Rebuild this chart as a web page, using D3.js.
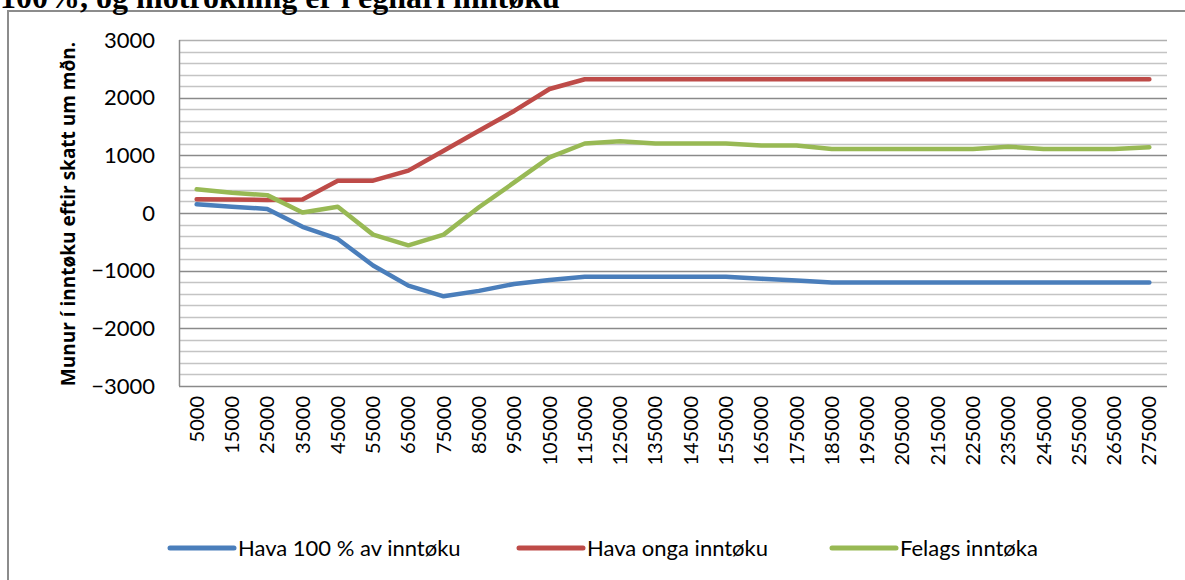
<!DOCTYPE html>
<html>
<head>
<meta charset="utf-8">
<script src="https://cdn.jsdelivr.net/npm/d3@7"></script>
<style>
  html, body { margin: 0; padding: 0; background: #fff; overflow: hidden; }
  svg { display: block; }
</style>
</head>
<body>
<div id="graph-container"></div>
<script>
const incomes = [5000, 15000, 25000, 35000, 45000, 55000, 65000, 75000, 85000, 95000,
    105000, 115000, 125000, 135000, 145000, 155000, 165000, 175000, 185000, 195000,
    205000, 215000, 225000, 235000, 245000, 255000, 265000, 275000];

const fullIncome = [150, 110, 70, -240, -450, -910, -1260, -1445, -1350, -1230,
    -1160, -1105, -1105, -1105, -1105, -1105, -1140, -1170, -1205, -1205,
    -1205, -1205, -1205, -1205, -1205, -1205, -1205, -1205];

const noIncome = [240, 235, 225, 235, 560, 560, 735, 1080, 1425, 1770,
    2150, 2320, 2320, 2320, 2320, 2320, 2320, 2320, 2320, 2320,
    2320, 2320, 2320, 2320, 2320, 2320, 2320, 2320];

const sharedIncome = [410, 350, 310, 10, 110, -375, -560, -375, 100, 530,
    965, 1205, 1245, 1205, 1205, 1205, 1170, 1170, 1110, 1110,
    1110, 1110, 1110, 1150, 1110, 1110, 1110, 1140];

const seriesNames = ['Hava 100 % av inntøku', 'Hava onga inntøku', 'Felags inntøka'];
const seriesColors = ['#4a7ebb', '#be4b48', '#98b954'];
const yTicks = [-3000, -2000, -1000, 0, 1000, 2000, 3000];

const series = [fullIncome, noIncome, sharedIncome].map((values, i) => ({
    name: seriesNames[i],
    color: seriesColors[i],
    values: values,
}));

const WIDTH = 1185, HEIGHT = 580;

const margin = { top: 40, left: 179, right: 18, bottom: 194 };
const width = WIDTH - margin.left - margin.right,
    height = HEIGHT - margin.top - margin.bottom;

const svg = d3.select('#graph-container').append('svg')
    .attr('width', WIDTH)
    .attr('height', HEIGHT);

// chart frame
svg.append('rect')
    .attr('x', 8)
    .attr('y', 11)
    .attr('width', WIDTH)
    .attr('height', HEIGHT)
    .attr('fill', '#fff')
    .attr('stroke', '#8c8c8c')
    .attr('stroke-width', 2);

// clipped document text above the chart
svg.append('text')
    .attr('x', 0)
    .attr('y', 8)
    .style('font-family', '"Liberation Serif", "DejaVu Serif", serif')
    .style('font-weight', 'bold')
    .style('font-size', '32px')
    .text('100%, og mótrokning er í egnari inntøku');

const xScale = d3.scaleBand()
    .domain(incomes)
    .range([0, width]);

const yScale = d3.scaleLinear()
    .domain([-3000, 3000])
    .range([height, 0]);

const container = svg.append('g')
    .attr('transform', `translate(${margin.left} ${margin.top})`);

// minor grid
const minor = d3.range(-3000, 3001, 200).filter((d) => d % 1000 !== 0);
container.append('g')
    .selectAll('line')
    .data(minor)
    .join('line')
    .attr('x1', 0)
    .attr('x2', width)
    .attr('y1', (d) => Math.round(yScale(d)) + 0.5)
    .attr('y2', (d) => Math.round(yScale(d)) + 0.5)
    .attr('stroke', '#c4c4c4')
    .attr('stroke-width', 1.5);

// major grid
container.append('g')
    .selectAll('line')
    .data(yTicks)
    .join('line')
    .attr('x1', 0)
    .attr('x2', width)
    .attr('y1', (d) => Math.round(yScale(d)) + 0.5)
    .attr('y2', (d) => Math.round(yScale(d)) + 0.5)
    .attr('stroke', (d) => d === 3000 ? '#b0b0b0' : '#8a8a8a')
    .attr('stroke-width', 1.5);

// left axis line
container.append('line')
    .attr('x1', 0.5).attr('x2', 0.5)
    .attr('y1', 0).attr('y2', height)
    .attr('stroke', '#8a8a8a')
    .attr('stroke-width', 1.5);

// y axis labels
const yAxis = d3.axisLeft(yScale)
    .tickValues(yTicks)
    .tickSize(0)
    .tickPadding(24)
    .tickFormat(d3.format('d'));

container.append('g')
    .call(yAxis)
    .call((g) => g.select('.domain').remove())
    .selectAll('text')
    .style('font-family', 'Lato, "Open Sans", sans-serif')
    .style('font-size', '22px')
    .attr('fill', '#000');

// x axis labels
const xAxis = d3.axisBottom(xScale)
    .tickSize(0)
    .tickFormat((d) => d);

container.append('g')
    .attr('transform', `translate(0, ${height})`)
    .call(xAxis)
    .call((g) => g.select('.domain').remove())
    .selectAll('text')
    .attr('transform', 'rotate(-90)')
    .attr('x', -10)
    .attr('y', 0)
    .attr('dy', '0.35em')
    .style('text-anchor', 'end')
    .style('font-family', 'Lato, "Open Sans", sans-serif')
    .style('font-size', '20px')
    .attr('fill', '#000');

// y axis title
svg.append('text')
    .attr('transform', `translate(75, 214) rotate(-90)`)
    .style('text-anchor', 'middle')
    .style('font-family', '"Open Sans", "DejaVu Sans", sans-serif')
    .style('font-weight', 'bold')
    .style('font-size', '19px')
    .text('Munur í inntøku eftir skatt um mðn.');

// lines
const line = d3.line()
    .x((d, i) => xScale(incomes[i]) + xScale.bandwidth() / 2)
    .y((d) => yScale(d));

container.append('g')
    .selectAll('path')
    .data(series)
    .join('path')
    .attr('d', (d) => line(d.values))
    .attr('fill', 'none')
    .attr('stroke', (d) => d.color)
    .attr('stroke-width', 4.5)
    .attr('stroke-linejoin', 'round')
    .attr('stroke-linecap', 'round');

// legend
const legendX = [168, 517, 830];
const legend = svg.append('g')
    .selectAll('g')
    .data(series)
    .join('g')
    .attr('transform', (d, i) => `translate(${legendX[i]}, 548)`);

legend.append('line')
    .attr('x1', 2).attr('x2', 66)
    .attr('y1', 0).attr('y2', 0)
    .attr('stroke', (d) => d.color)
    .attr('stroke-width', 5)
    .attr('stroke-linecap', 'round');

legend.append('text')
    .attr('x', 70)
    .attr('y', 0)
    .attr('dy', '0.35em')
    .style('font-family', 'Lato, "Open Sans", sans-serif')
    .style('font-size', '22px')
    .text((d) => d.name);
</script>
</body>
</html>
